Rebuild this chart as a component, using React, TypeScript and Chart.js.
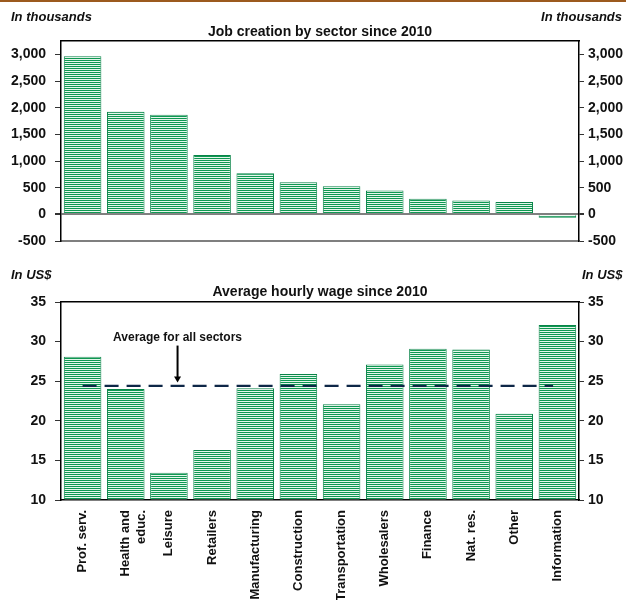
import React, { useEffect, useRef } from "react";
import { Chart, registerables } from "chart.js";

Chart.register(...registerables);

// ---------------- DATA ----------------
const categories: (string | string[])[] = [
  "Prof. serv.",
  ["Health and", "educ."],
  "Leisure",
  "Retailers",
  "Manufacturing",
  "Construction",
  "Transportation",
  "Wholesalers",
  "Finance",
  "Nat. res.",
  "Other",
  "Information",
];

// Job creation since 2010, in thousands
const jobCreation = [2966, 1922, 1866, 1114, 771, 603, 528, 448, 293, 261, 230, -62];

// Average hourly wage, US$
const hourlyWage = [28.1, 24.0, 13.45, 16.3, 24.1, 25.9, 22.1, 27.1, 29.1, 29.0, 20.9, 32.1];

// Average for all sectors (dashed line), spanning category positions
const averageWage = 24.4;
const averageSpan = [0, 10.9];

// Tick labels
const jobTicks = [-500, 0, 500, 1000, 1500, 2000, 2500, 3000];
const wageTicks = [10, 15, 20, 25, 30, 35];

const topTitle = "Job creation by sector since 2010";
const bottomTitle = "Average hourly wage since 2010";
const topUnit = "In thousands";
const bottomUnit = "In US$";
const annotationLabel = "Average for all sectors";
const annotationX = 2.2; // category position
const annotationTextY = 30.5;
const arrowFromY = 29.5;
const arrowToY = 24.85;

const jobRange = { min: -500, max: 3250 };
const wageRange = { min: 10, max: 35 };

// ---------------- STYLE ----------------
const FONT = 'Arial, "Liberation Sans", Helvetica, sans-serif';
const GREEN = "#0e9852";
const GREEN_BORDER = "#0a8449";
const TEXT = "#111111";

function stripePattern(): CanvasPattern | string {
  const c = document.createElement("canvas");
  c.width = 2;
  c.height = 2;
  const g = c.getContext("2d");
  if (!g) return GREEN;
  g.fillStyle = "#e6f6ec";
  g.fillRect(0, 0, 2, 2);
  g.fillStyle = GREEN;
  g.fillRect(0, 0, 2, 1);
  const p = g.createPattern(c, "repeat");
  return p || GREEN;
}

const fmt = (v: number) => Number(v).toLocaleString("en-US");

function yAxis(
  side: "left" | "right",
  range: { min: number; max: number },
  tickValues: number[],
  width: number,
  zeroLine: boolean
) {
  return {
    type: "linear",
    position: side,
    min: range.min,
    max: range.max,
    ticks: {
      callback: (v: any) => fmt(v),
      font: { family: FONT, size: 14, weight: "bold" },
      color: TEXT,
      padding: side === "left" ? 9 : 4,
    },
    grid: {
      drawOnChartArea: zeroLine && side === "left",
      drawTicks: true,
      tickLength: side === "left" ? 6 : 5,
      tickColor: "#333333",
      color: (ctx: any) =>
        ctx.tick && ctx.tick.value === 0 ? "#7f7f7f" : "rgba(0,0,0,0)",
      lineWidth: (ctx: any) => (ctx.tick && ctx.tick.value === 0 ? 2 : 1),
    },
    border: { color: "#000000", width: 1.5 },
    afterBuildTicks: (s: any) => {
      s.ticks = tickValues.map((value) => ({ value }));
    },
    afterFit: (s: any) => {
      s.width = width;
      s.paddingTop = 0;
      s.paddingBottom = 0;
    },
  };
}

function hiddenHorizontal(position: "top" | "bottom", height: number, borderColor: string | null, borderWidth: number) {
  return {
    type: "category",
    position,
    offset: true,
    ticks: { display: false },
    grid: { display: false, drawTicks: false },
    border: borderColor ? { color: borderColor, width: borderWidth } : { display: false },
    afterFit: (s: any) => {
      s.height = height;
    },
  };
}

const avgAnnotation = {
  id: "avgAnnotation",
  afterDatasetsDraw(chart: any) {
    const xs = chart.scales.xl;
    const ys = chart.scales.y;
    if (!xs || !ys) return;
    const ctx = chart.ctx;
    const x = xs.getPixelForValue(annotationX);
    ctx.save();
    ctx.font = `bold 12px ${FONT}`;
    ctx.fillStyle = TEXT;
    ctx.textAlign = "center";
    ctx.textBaseline = "middle";
    ctx.fillText(annotationLabel, x, ys.getPixelForValue(annotationTextY));
    const y1 = ys.getPixelForValue(arrowFromY);
    const y2 = ys.getPixelForValue(arrowToY);
    ctx.strokeStyle = "#000";
    ctx.fillStyle = "#000";
    ctx.lineWidth = 2;
    ctx.beginPath();
    ctx.moveTo(x, y1);
    ctx.lineTo(x, y2 - 5);
    ctx.stroke();
    ctx.beginPath();
    ctx.moveTo(x - 3.5, y2 - 6);
    ctx.lineTo(x + 3.5, y2 - 6);
    ctx.lineTo(x, y2);
    ctx.closePath();
    ctx.fill();
    ctx.restore();
  },
};

const W = 626;
const TOP_H = 250;
const BOTTOM_H = 350;

export default function App() {
  const topRef = useRef<HTMLCanvasElement | null>(null);
  const botRef = useRef<HTMLCanvasElement | null>(null);

  useEffect(() => {
    if (!topRef.current || !botRef.current) return;
    const pattern = stripePattern();

    const topChart = new Chart(topRef.current, {
      type: "bar",
      data: {
        labels: categories as any,
        datasets: [
          {
            data: jobCreation,
            backgroundColor: pattern as any,
            borderColor: GREEN_BORDER,
            borderWidth: 1,
            barPercentage: 0.87,
            categoryPercentage: 1,
            grouped: false,
            xAxisID: "x",
            yAxisID: "y",
          } as any,
        ],
      },
      options: {
        responsive: false,
        animation: false,
        events: [],
        layout: { padding: 0 },
        plugins: { legend: { display: false }, tooltip: { enabled: false }, title: { display: false } },
        scales: {
          x: hiddenHorizontal("bottom", 9, "#7f7f7f", 2) as any,
          xt: hiddenHorizontal("top", 41, "#000", 1.5) as any,
          y: yAxis("left", jobRange, jobTicks, 61, true) as any,
          y2: yAxis("right", jobRange, jobTicks, 47, false) as any,
        },
      } as any,
    });

    const botChart = new Chart(botRef.current, {
      type: "bar",
      data: {
        labels: categories as any,
        datasets: [
          {
            type: "bar",
            data: hourlyWage,
            base: wageRange.min,
            backgroundColor: pattern as any,
            borderColor: GREEN_BORDER,
            borderWidth: 1,
            barPercentage: 0.87,
            categoryPercentage: 1,
            grouped: false,
            xAxisID: "x",
            yAxisID: "y",
            order: 1,
          } as any,
          {
            type: "line",
            data: averageSpan.map((x) => ({ x, y: averageWage })),
            borderColor: "#0e2747",
            borderWidth: 2.2,
            borderDash: [14, 8],
            pointRadius: 0,
            fill: false,
            xAxisID: "xl",
            yAxisID: "y",
            order: 0,
          } as any,
        ],
      },
      options: {
        responsive: false,
        animation: false,
        events: [],
        layout: { padding: 0 },
        plugins: { legend: { display: false }, tooltip: { enabled: false }, title: { display: false } },
        scales: {
          x: {
            type: "category",
            position: "bottom",
            offset: true,
            ticks: {
              autoSkip: false,
              minRotation: 90,
              maxRotation: 90,
              padding: 10,
              font: { family: FONT, size: 13, weight: "bold" },
              color: TEXT,
            },
            grid: { display: false, drawTicks: false },
            border: { color: "#000", width: 1.5 },
            afterFit: (s: any) => {
              s.height = 100;
            },
          },
          xt: hiddenHorizontal("top", 52, "#000", 1.5) as any,
          xl: {
            type: "linear",
            position: "top",
            offset: false,
            min: -0.5,
            max: categories.length - 0.5,
            ticks: { display: false },
            grid: { display: false, drawTicks: false, offset: false },
            border: { display: false },
            afterFit: (s: any) => {
              s.height = 0;
            },
          },
          y: yAxis("left", wageRange, wageTicks, 61, false) as any,
          y2: yAxis("right", wageRange, wageTicks, 47, false) as any,
        },
      } as any,
      plugins: [avgAnnotation as any],
    });

    return () => {
      topChart.destroy();
      botChart.destroy();
    };
  }, []);

  const unitStyle: React.CSSProperties = {
    position: "absolute",
    font: `italic bold 13px ${FONT}`,
    color: TEXT,
    lineHeight: "15px",
    whiteSpace: "nowrap",
  };
  const titleStyle: React.CSSProperties = {
    position: "absolute",
    left: 61,
    width: 518,
    textAlign: "center",
    font: `bold 14px ${FONT}`,
    color: TEXT,
    lineHeight: "16px",
    whiteSpace: "nowrap",
  };

  return (
    <div
      style={{
        position: "absolute",
        left: 0,
        top: 0,
        width: W,
        height: TOP_H + BOTTOM_H,
        background: "#fff",
        overflow: "hidden",
      }}
    >
      <div style={{ position: "absolute", left: 0, top: 0, width: W, height: 2, background: "#9c5a1e" }} />
      <canvas
        ref={topRef}
        width={W}
        height={TOP_H}
        style={{ position: "absolute", left: 0, top: 0, width: W, height: TOP_H }}
      />
      <canvas
        ref={botRef}
        width={W}
        height={BOTTOM_H}
        style={{ position: "absolute", left: 0, top: TOP_H, width: W, height: BOTTOM_H }}
      />
      <div style={{ ...unitStyle, left: 11, top: 9 }}>{topUnit}</div>
      <div style={{ ...unitStyle, right: 4, top: 9 }}>{topUnit}</div>
      <div style={{ ...titleStyle, top: 23 }}>{topTitle}</div>
      <div style={{ ...unitStyle, left: 11, top: 267 }}>{bottomUnit}</div>
      <div style={{ ...unitStyle, left: 582, top: 267 }}>{bottomUnit}</div>
      <div style={{ ...titleStyle, top: 283 }}>{bottomTitle}</div>
    </div>
  );
}
